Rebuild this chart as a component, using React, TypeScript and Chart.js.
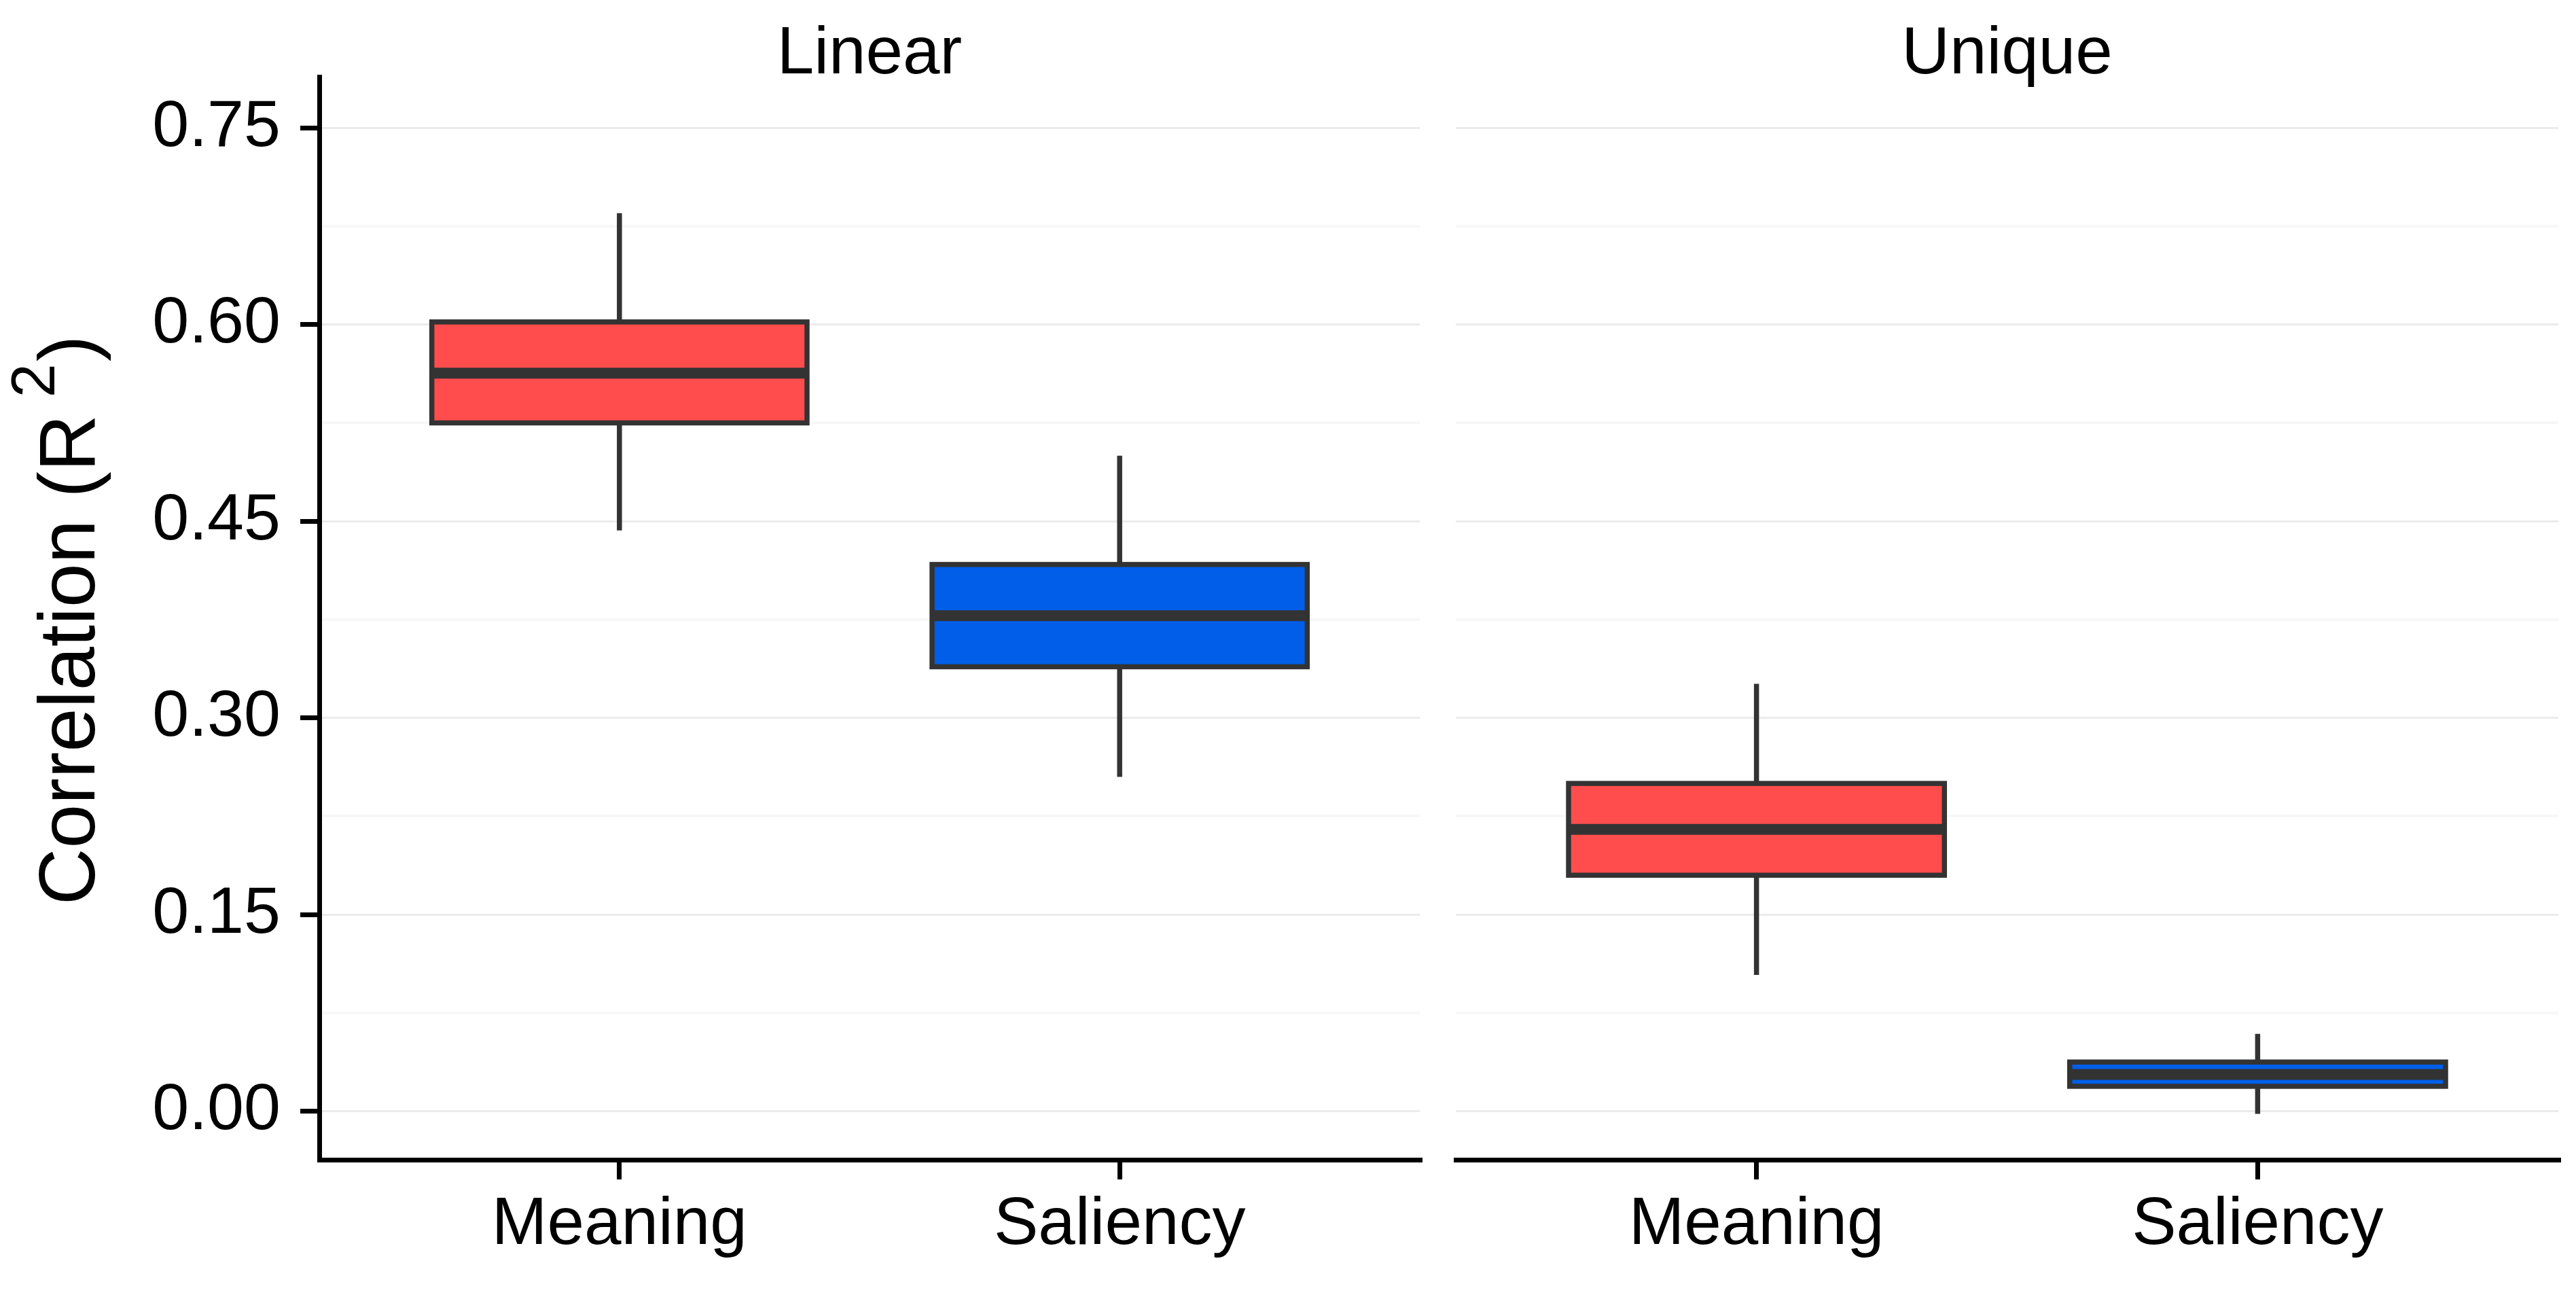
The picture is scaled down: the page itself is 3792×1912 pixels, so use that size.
import React, { useEffect, useRef } from 'react';
import { Chart, registerables } from 'chart.js';

Chart.register(...registerables);

const categories = ['Meaning', 'Saliency'];
const panelTitles = ['Linear', 'Unique'];
const boxColors = ['#ff4d4d', '#005ee9'];

// box plot summaries (whisker low, Q1, median, Q3, whisker high)
const linearLow = [0.443, 0.255];
const linearQ1 = [0.525, 0.339];
const linearMedian = [0.563, 0.378];
const linearQ3 = [0.602, 0.417];
const linearHigh = [0.685, 0.5];

const uniqueLow = [0.104, -0.002];
const uniqueQ1 = [0.18, 0.019];
const uniqueMedian = [0.215, 0.028];
const uniqueQ3 = [0.25, 0.0375];
const uniqueHigh = [0.326, 0.059];

const yMajorTicks = [0, 0.15, 0.3, 0.45, 0.6, 0.75];
const yTickLabels = ['0.00', '0.15', '0.30', '0.45', '0.60', '0.75'];
const yMinorTicks = [0.075, 0.225, 0.375, 0.525, 0.675];

const FONT = '"Liberation Sans", Arial, sans-serif';
const INK = '#333333';

interface Stats {
  low: number[];
  q1: number[];
  median: number[];
  q3: number[];
  high: number[];
}

const isMajor = (v: number) => yMajorTicks.some((m) => Math.abs(m - v) < 1e-6);

function boxPlugin(stats: Stats, title: string, yTitle: boolean) {
  return {
    id: 'boxes-' + title,
    afterDatasetsDraw(chart: any) {
      const { ctx, scales } = chart;
      const y = scales.y;
      const meta = chart.getDatasetMeta(0);
      ctx.save();
      ctx.strokeStyle = INK;
      ctx.lineCap = 'butt';
      meta.data.forEach((bar: any, i: number) => {
        const { x, width } = bar.getProps(['x', 'width'], true);
        const left = x - width / 2;
        const right = x + width / 2;
        const pLow = y.getPixelForValue(stats.low[i]);
        const pQ1 = y.getPixelForValue(stats.q1[i]);
        const pMed = y.getPixelForValue(stats.median[i]);
        const pQ3 = y.getPixelForValue(stats.q3[i]);
        const pHigh = y.getPixelForValue(stats.high[i]);
        ctx.lineWidth = 7.5;
        ctx.beginPath();
        ctx.moveTo(x, pQ3);
        ctx.lineTo(x, pHigh);
        ctx.moveTo(x, pQ1);
        ctx.lineTo(x, pLow);
        ctx.stroke();
        ctx.strokeRect(left, pQ3, right - left, pQ1 - pQ3);
        ctx.lineWidth = 16;
        ctx.beginPath();
        ctx.moveTo(left, pMed);
        ctx.lineTo(right, pMed);
        ctx.stroke();
      });
      ctx.restore();
    },
    afterDraw(chart: any) {
      const { ctx, chartArea } = chart;
      ctx.save();
      ctx.fillStyle = '#000';
      ctx.textBaseline = 'alphabetic';
      ctx.textAlign = 'center';
      ctx.font = `98px ${FONT}`;
      ctx.fillText(title, (chartArea.left + chartArea.right) / 2, 108);
      if (yTitle) {
        const main = 'Correlation (R';
        ctx.translate(139, 913);
        ctx.rotate(-Math.PI / 2);
        ctx.textAlign = 'left';
        ctx.font = `116px ${FONT}`;
        const wMain = ctx.measureText(main).width;
        const wClose = ctx.measureText(')').width;
        ctx.font = `90px ${FONT}`;
        const wSup = ctx.measureText('2').width;
        const gap1 = 25;
        const gap2 = 3;
        let u = -(wMain + gap1 + wSup + gap2 + wClose) / 2;
        ctx.font = `116px ${FONT}`;
        ctx.fillText(main, u, 0);
        u += wMain + gap1;
        ctx.font = `90px ${FONT}`;
        ctx.fillText('2', u, -59);
        u += wSup + gap2;
        ctx.font = `116px ${FONT}`;
        ctx.fillText(')', u, 0);
      }
      ctx.restore();
    },
  };
}

function makeChart(canvas: HTMLCanvasElement, panel: number, stats: Stats) {
  const left = panel === 0;
  return new Chart(canvas, {
    type: 'bar',
    data: {
      datasets: [
        {
          data: categories.map((_, i) => ({ x: i + 1, y: [stats.q1[i], stats.q3[i]] })) as any,
          backgroundColor: boxColors,
          borderWidth: 0,
          categoryPercentage: 0.75,
          barPercentage: 1,
        },
      ],
    },
    options: {
      responsive: false,
      animation: false,
      devicePixelRatio: 1,
      layout: { padding: left ? { top: 113, right: 20, bottom: 0, left: 0 } : { top: 113, right: 26, bottom: 0, left: 23 } },
      plugins: { legend: { display: false }, tooltip: { enabled: false } },
      scales: {
        x: {
          type: 'linear',
          min: 0.4,
          max: 2.6,
          offset: false,
          afterBuildTicks: (scale: any) => {
            scale.ticks = categories.map((_, i) => ({ value: i + 1 }));
          },
          afterFit: (scale: any) => {
            scale.height = 205;
          },
          ticks: {
            callback: (_v: any, i: number) => categories[i],
            color: '#000',
            padding: 9,
            font: { family: FONT, size: 98 },
            maxRotation: 0,
            autoSkip: false,
          },
          grid: {
            offset: false,
            drawOnChartArea: false,
            tickLength: 29,
            tickColor: '#000',
            tickWidth: 7,
            lineWidth: 7,
          },
          border: { display: true, color: '#000', width: 7 },
        },
        y: {
          type: 'linear',
          min: -0.037,
          max: 0.789,
          afterBuildTicks: (scale: any) => {
            scale.ticks = [...yMajorTicks, ...yMinorTicks].sort((a, b) => a - b).map((v) => ({ value: v }));
          },
          afterFit: (scale: any) => {
            scale.width = left ? 470 : 0;
          },
          ticks: {
            display: left,
            callback: (v: any) => {
              const k = yMajorTicks.findIndex((m) => Math.abs(m - v) < 1e-6);
              return k >= 0 ? yTickLabels[k] : '';
            },
            color: '#000',
            padding: 29,
            font: { family: FONT, size: 97 },
          },
          grid: {
            drawTicks: left,
            tickLength: 28,
            tickWidth: 7,
            tickColor: (ctx: any) => (isMajor(ctx.tick.value) ? '#000' : 'rgba(0,0,0,0)'),
            color: (ctx: any) => (isMajor(ctx.tick.value) ? '#ebebeb' : '#f7f7f7'),
            lineWidth: (ctx: any) => (isMajor(ctx.tick.value) ? 3 : 4),
          },
          border: { display: left, color: '#000', width: 7 },
        },
      },
    },
    plugins: [boxPlugin(stats, panelTitles[panel], left)],
  } as any);
}

export default function App() {
  const leftRef = useRef<HTMLCanvasElement>(null);
  const rightRef = useRef<HTMLCanvasElement>(null);

  useEffect(() => {
    if (!leftRef.current || !rightRef.current) return;
    const a = makeChart(leftRef.current, 0, {
      low: linearLow, q1: linearQ1, median: linearMedian, q3: linearQ3, high: linearHigh,
    });
    const b = makeChart(rightRef.current, 1, {
      low: uniqueLow, q1: uniqueQ1, median: uniqueMedian, q3: uniqueQ3, high: uniqueHigh,
    });
    return () => {
      a.destroy();
      b.destroy();
    };
  }, []);

  return (
    <div style={{ position: 'absolute', left: 0, top: 0, width: 3792, height: 1912, background: '#fff', overflow: 'hidden' }}>
      <canvas ref={leftRef} width={2110} height={1912} style={{ position: 'absolute', left: 0, top: 0, width: 2110, height: 1912 }} />
      <canvas ref={rightRef} width={1672} height={1912} style={{ position: 'absolute', left: 2120, top: 0, width: 1672, height: 1912 }} />
    </div>
  );
}
